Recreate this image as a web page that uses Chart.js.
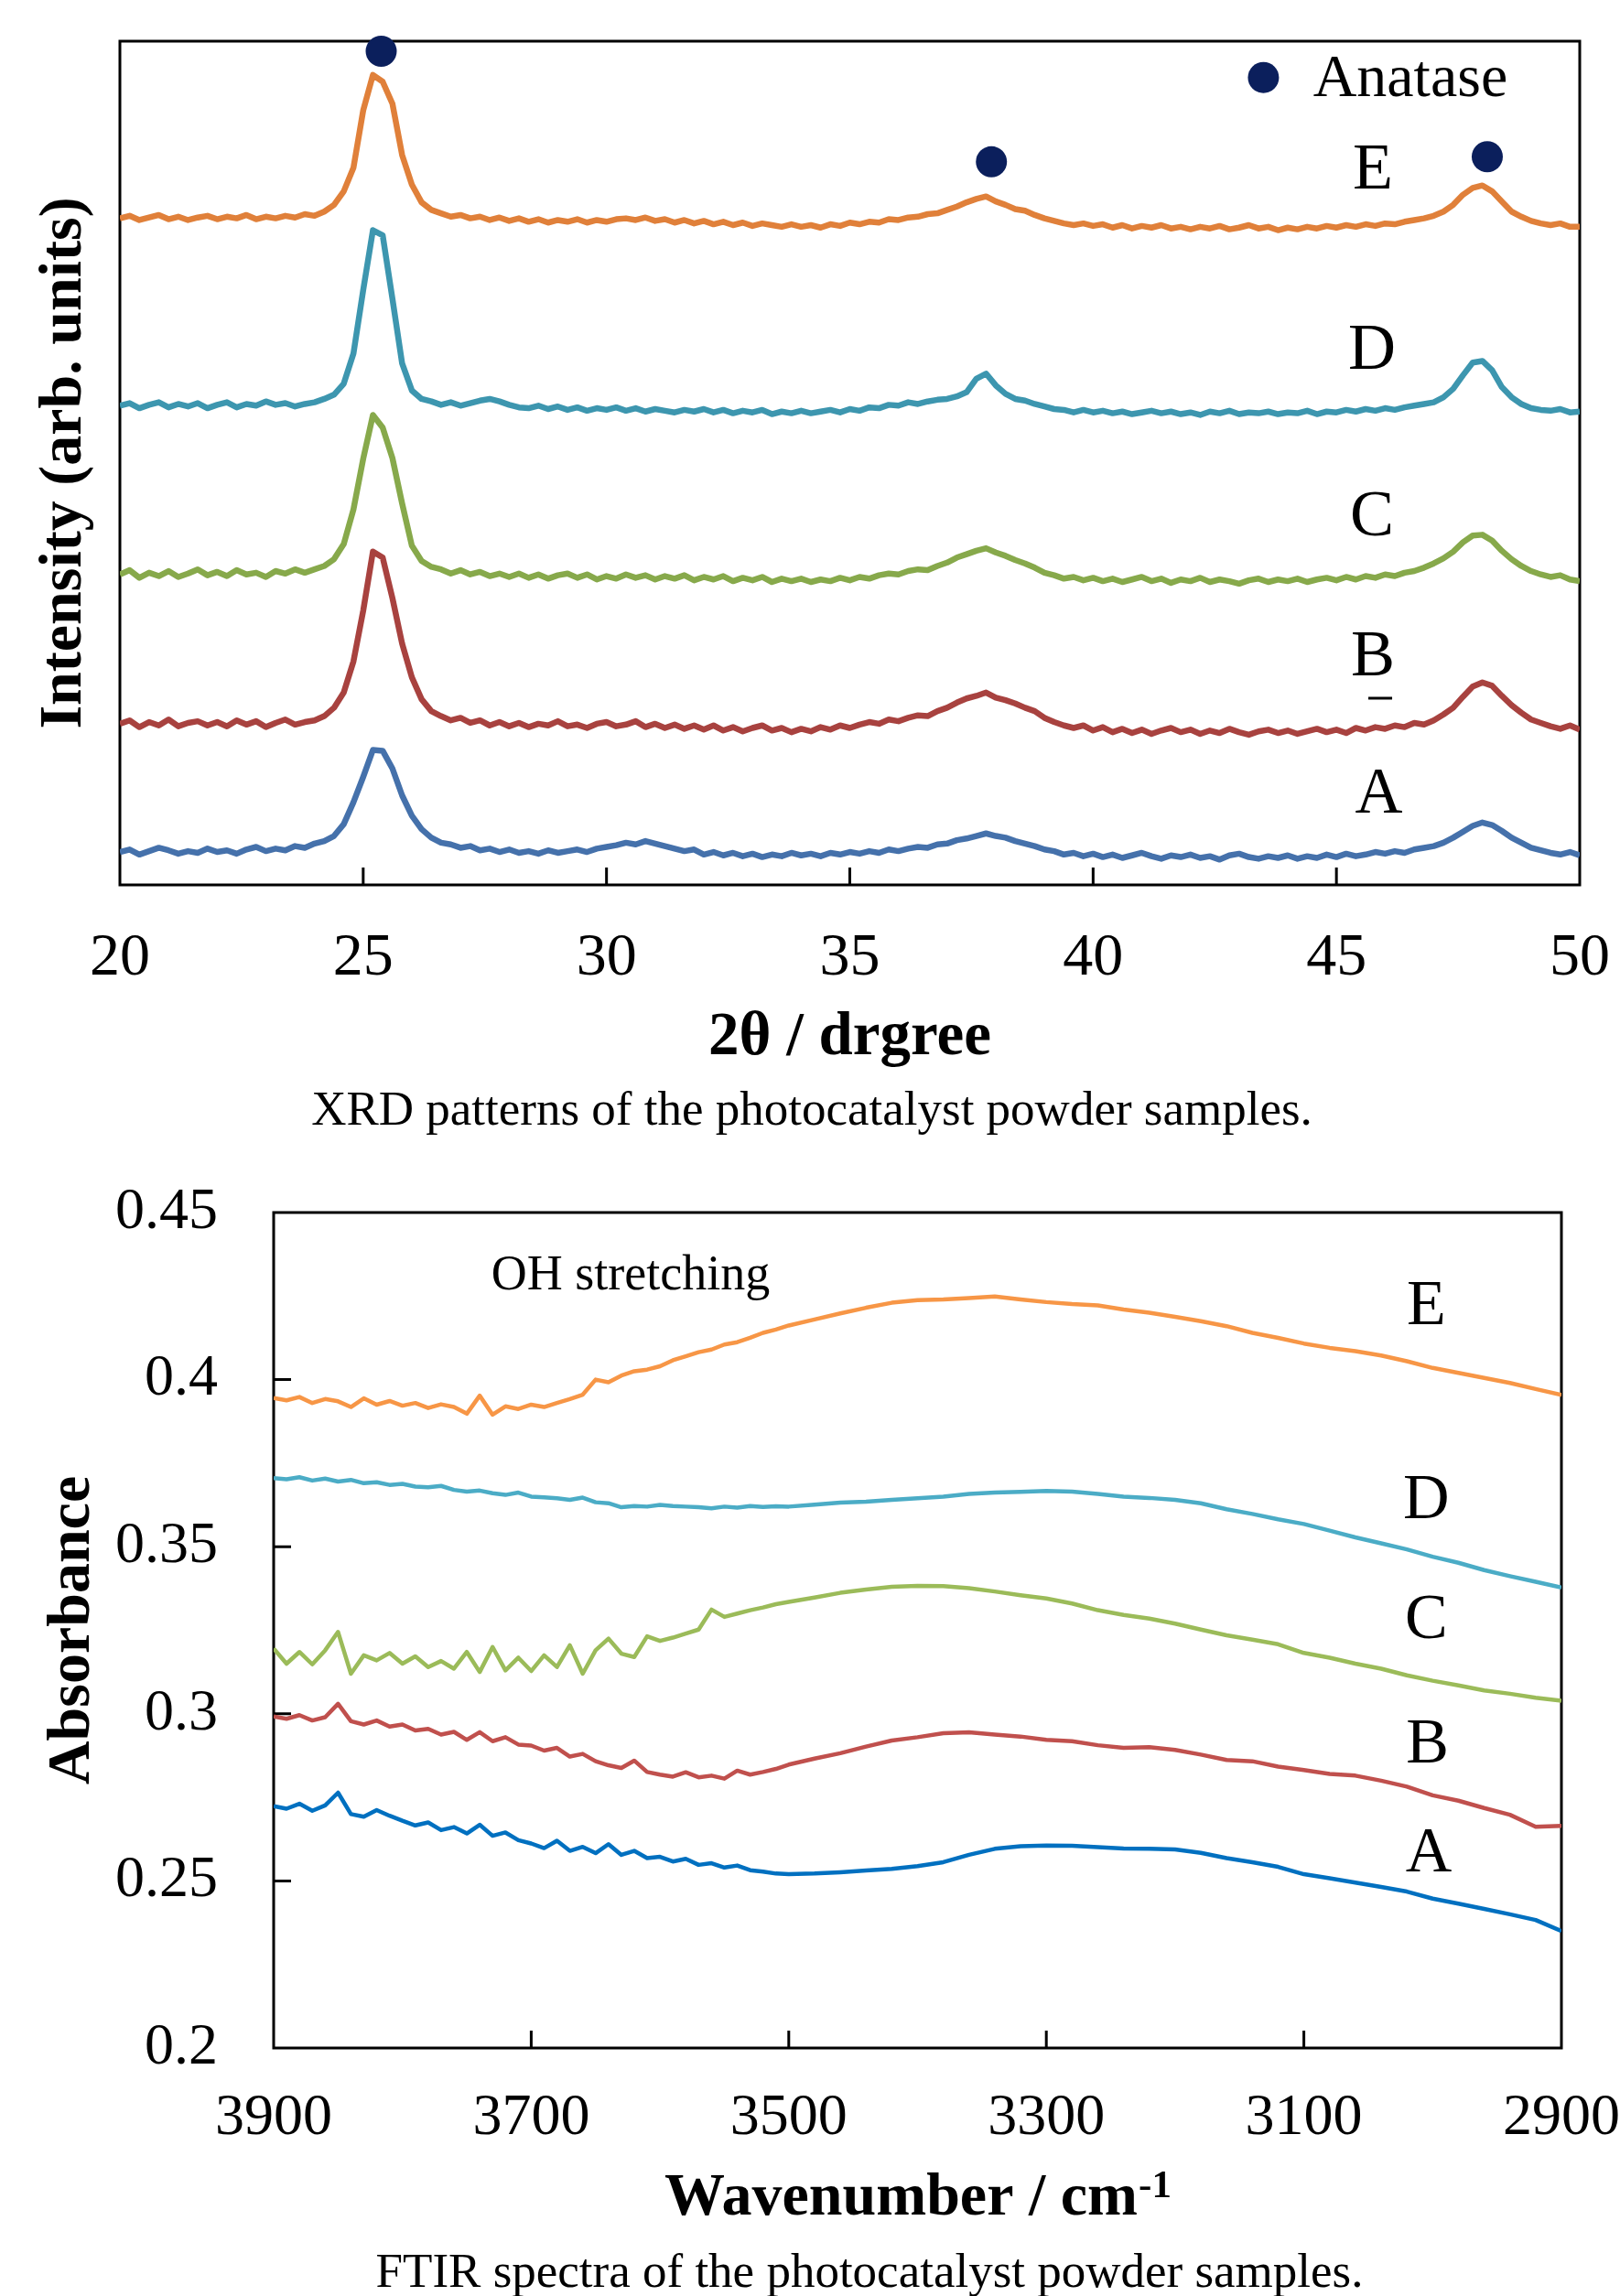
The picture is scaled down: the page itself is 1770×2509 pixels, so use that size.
<!DOCTYPE html>
<html><head><meta charset="utf-8">
<script src="https://cdn.jsdelivr.net/npm/chart.js@4.4.1/dist/chart.umd.min.js"></script>
<style>
html,body{margin:0;padding:0;background:#fff;}
body{width:1770px;height:2509px;position:relative;overflow:hidden;}
canvas{position:absolute;left:0;}
#xrd{top:0;}
#ftir{top:1260px;}
</style></head>
<body>
<canvas id="xrd" width="1770" height="1260"></canvas>
<canvas id="ftir" width="1770" height="1249"></canvas>
<script>
// ---------------- XRD data ----------------
const twoTheta = [];
for (let i = 0; i <= 150; i++) twoTheta.push(Math.round((20 + 0.2 * i) * 10) / 10);
const xrdTicks = [20, 25, 30, 35, 40, 45, 50];

const xrdA = [
 3.9,4.2,3.6,4.0,4.4,4.1,3.7,4.0,3.8,4.3,
 3.9,4.1,3.7,4.2,4.5,4.0,4.3,4.1,4.6,4.4,
 4.9,5.2,5.8,7.2,9.8,12.8,16.0,15.9,13.8,10.6,
 8.2,6.6,5.6,5.0,4.8,4.4,4.6,4.1,4.3,3.9,
 4.2,3.8,4.0,3.7,4.1,3.8,4.0,4.2,3.9,4.3,
 4.5,4.7,5.0,4.8,5.2,4.9,4.6,4.3,4.0,4.2,
 3.6,3.9,3.5,3.8,3.4,3.7,3.3,3.6,3.4,3.8,
 3.5,3.7,3.4,3.8,3.6,3.9,3.7,4.0,3.8,4.2,
 4.0,4.3,4.5,4.4,4.8,4.9,5.3,5.5,5.8,6.1,
 5.8,5.6,5.2,4.9,4.6,4.2,4.0,3.6,3.8,3.4,
 3.7,3.3,3.6,3.2,3.5,3.8,3.4,3.1,3.5,3.3,
 3.6,3.2,3.4,3.0,3.5,3.7,3.3,3.1,3.4,3.2,
 3.5,3.1,3.4,3.2,3.6,3.3,3.7,3.4,3.6,3.9,
 3.7,4.0,3.8,4.2,4.4,4.6,5.0,5.6,6.3,7.0,
 7.4,7.1,6.4,5.6,5.0,4.4,4.1,3.8,3.6,3.9,
 3.5];
const xrdB = [
 19.1,19.5,18.7,19.3,18.9,19.6,18.8,19.2,19.4,18.9,
 19.3,18.8,19.5,19.0,19.4,18.7,19.2,19.6,19.0,19.3,
 19.5,20.0,21.0,22.8,26.5,32.5,39.5,38.8,34.0,28.6,
 24.6,22.0,20.6,20.0,19.5,19.8,19.2,19.5,18.9,19.3,
 18.8,19.2,18.7,19.1,18.9,19.4,18.8,19.0,18.6,19.1,
 19.3,18.8,19.0,19.4,18.7,19.1,18.6,19.0,18.5,18.9,
 18.4,18.9,18.3,18.7,18.2,18.6,18.9,18.3,18.6,18.1,
 18.5,18.2,18.7,18.4,18.9,18.6,19.0,19.3,19.1,19.6,
 19.4,19.8,20.1,20.0,20.6,21.0,21.6,22.1,22.4,22.8,
 22.2,21.9,21.5,21.0,20.6,19.8,19.3,18.9,18.6,18.9,
 18.3,18.7,18.1,18.5,18.0,18.4,17.9,18.3,18.6,18.1,
 18.4,17.9,18.3,18.0,18.5,18.1,17.8,18.2,18.4,18.0,
 18.3,17.9,18.2,18.5,18.1,18.4,18.0,18.6,18.3,18.7,
 18.5,18.9,18.7,19.2,19.0,19.5,20.2,21.0,22.3,23.5,
 24.0,23.6,22.4,21.3,20.4,19.6,19.2,18.8,18.5,18.9,
 18.4];
const xrdC = [
 36.8,37.3,36.4,37.0,36.6,37.2,36.5,36.9,37.4,36.7,
 37.1,36.6,37.3,36.8,37.0,36.5,37.2,36.9,37.4,37.0,
 37.4,37.8,38.6,40.4,44.5,50.5,55.7,54.2,50.6,45.2,
 40.2,38.4,37.7,37.4,36.9,37.3,36.8,37.1,36.6,36.9,
 36.5,36.9,36.4,36.8,36.3,36.7,36.9,36.4,36.8,36.2,
 36.6,36.3,36.8,36.4,36.7,36.2,36.6,36.3,36.7,36.1,
 36.5,36.2,36.6,36.0,36.4,36.1,36.5,35.9,36.3,36.0,
 36.3,35.9,36.2,36.0,36.4,36.1,36.5,36.3,36.7,36.9,
 36.8,37.2,37.4,37.3,37.8,38.2,38.8,39.2,39.6,39.9,
 39.4,39.0,38.5,38.1,37.6,37.0,36.7,36.3,36.5,36.1,
 36.4,36.0,36.3,35.9,36.2,36.5,36.0,36.3,35.8,36.2,
 36.0,36.4,35.9,36.2,36.0,35.7,36.1,36.3,35.9,36.2,
 36.0,36.3,35.9,36.2,36.4,36.1,36.5,36.2,36.6,36.4,
 36.8,36.6,37.0,37.2,37.6,38.1,38.7,39.5,40.6,41.4,
 41.5,40.8,39.6,38.6,37.8,37.2,36.8,36.5,36.7,36.2,
 36.0];
const xrdD = [
 56.8,57.1,56.5,56.9,57.2,56.6,57.0,56.7,57.1,56.5,
 56.9,57.2,56.6,57.0,56.8,57.3,56.9,57.1,56.7,57.0,
 57.2,57.6,58.1,59.4,63.0,70.5,77.6,77.0,69.5,61.8,
 58.6,57.6,57.3,56.9,57.2,56.8,57.1,57.4,57.6,57.3,
 56.9,56.6,56.5,56.8,56.4,56.7,56.3,56.6,56.2,56.5,
 56.3,56.6,56.2,56.5,56.1,56.4,56.2,56.0,56.3,56.1,
 56.4,56.0,56.3,55.9,56.2,56.0,56.3,55.8,56.1,55.9,
 56.2,55.9,56.1,56.3,56.0,56.4,56.2,56.6,56.5,56.9,
 56.8,57.2,57.0,57.3,57.5,57.6,57.9,58.4,60.0,60.6,
 59.2,58.2,57.6,57.4,57.0,56.7,56.4,56.3,56.0,56.3,
 56.0,56.2,55.9,56.1,55.8,56.0,56.2,55.9,56.1,55.8,
 56.0,55.7,56.1,55.9,56.2,55.8,56.0,55.9,56.1,55.8,
 56.0,55.9,56.2,55.8,56.1,56.0,56.3,56.1,56.4,56.2,
 56.5,56.3,56.6,56.8,57.0,57.2,57.8,58.8,60.4,61.9,
 62.1,61.0,59.0,57.8,57.0,56.5,56.3,56.2,56.4,56.0,
 56.1];
const xrdE = [
 79.0,79.3,78.8,79.1,79.4,78.9,79.2,78.8,79.1,79.3,
 78.9,79.2,79.0,79.4,78.9,79.2,79.0,79.3,79.1,79.5,
 79.3,79.8,80.6,82.2,85.0,91.8,96.0,95.2,92.6,86.5,
 83.0,80.9,80.0,79.6,79.2,79.4,79.0,79.2,78.8,79.1,
 78.7,79.0,78.6,78.9,78.5,78.8,78.6,78.9,78.5,78.8,
 78.6,78.9,79.0,78.8,79.1,78.7,78.9,78.5,78.8,78.4,
 78.7,78.3,78.6,78.2,78.5,78.1,78.4,78.2,78.0,78.3,
 78.0,78.2,77.9,78.3,78.1,78.5,78.3,78.6,78.5,78.9,
 78.8,79.1,79.2,79.5,79.6,80.0,80.4,80.9,81.3,81.6,
 81.0,80.6,80.1,79.9,79.4,79.0,78.7,78.4,78.2,78.4,
 78.1,78.3,77.9,78.2,77.8,78.1,77.9,78.2,77.8,78.0,
 77.7,78.0,77.8,78.1,77.7,77.9,78.2,77.8,78.0,77.6,
 77.9,77.7,78.0,77.8,78.1,77.9,78.2,78.0,78.3,78.1,
 78.4,78.3,78.6,78.8,79.0,79.3,79.8,80.6,81.8,82.6,
 82.9,82.2,81.0,79.8,79.2,78.7,78.4,78.2,78.4,78.0,
 78.0];
const anataseTheta = [25.37, 37.91, 48.10];
const anataseIntensity = [98.8, 85.7, 86.3];

// ---------------- FTIR data ----------------
const wavenumber = [
 3900,3890,3880,3870,3860,3850,3840,3830,3820,3810,
 3800,3790,3780,3770,3760,3750,3740,3730,3720,3710,
 3700,3690,3680,3670,3660,3650,3640,3630,3620,3610,
 3600,3590,3580,3570,3560,3550,3540,3530,3520,3510,
 3500,3480,3460,3440,3420,3400,3380,3360,3340,3320,
 3300,3280,3260,3240,3220,3200,3180,3160,3140,3120,
 3100,3080,3060,3040,3020,3000,2980,2960,2940,2920,
 2900];
const ftirXTicks = [3900, 3700, 3500, 3300, 3100, 2900];
const ftirYTicks = [0.2, 0.25, 0.3, 0.35, 0.4, 0.45];

const ftirA = [
 0.2724,0.2716,0.2731,0.2710,0.2726,0.2764,0.2700,0.2692,0.2712,0.2695,
 0.2680,0.2666,0.2675,0.2652,0.2661,0.2642,0.2668,0.2635,0.2645,0.2622,
 0.2612,0.2598,0.2620,0.2590,0.2602,0.2583,0.2610,0.2578,0.2590,0.2568,
 0.2572,0.2558,0.2566,0.2548,0.2553,0.2540,0.2546,0.2532,0.2528,0.2522,
 0.2520,0.2522,0.2526,0.2531,0.2536,0.2544,0.2556,0.2578,0.2596,0.2604,
 0.2606,0.2605,0.2601,0.2597,0.2596,0.2594,0.2584,0.2568,0.2556,0.2542,
 0.2520,0.2508,0.2495,0.2482,0.2468,0.2447,0.2432,0.2416,0.2400,0.2383,
 0.2350];
const ftirB = [
 0.2992,0.2985,0.2996,0.2980,0.2990,0.3030,0.2978,0.2968,0.2980,0.2962,
 0.2968,0.2950,0.2955,0.2938,0.2946,0.2922,0.2945,0.2918,0.2930,0.2908,
 0.2905,0.2890,0.2898,0.2872,0.2880,0.2858,0.2846,0.2838,0.2860,0.2826,
 0.2818,0.2812,0.2825,0.2810,0.2815,0.2806,0.2830,0.2818,0.2826,0.2835,
 0.2848,0.2866,0.2882,0.2902,0.2920,0.2930,0.2942,0.2945,0.2938,0.2932,
 0.2922,0.2918,0.2906,0.2898,0.2900,0.2892,0.2878,0.2862,0.2858,0.2842,
 0.2832,0.2820,0.2815,0.2800,0.2782,0.2756,0.2740,0.2718,0.2698,0.2662,
 0.2665];
const ftirC = [
 0.3195,0.3150,0.3185,0.3148,0.3190,0.3245,0.3120,0.3175,0.3160,0.3182,
 0.3150,0.3172,0.3140,0.3158,0.3135,0.3185,0.3125,0.3200,0.3130,0.3168,
 0.3128,0.3175,0.3140,0.3205,0.3120,0.3190,0.3225,0.3180,0.3170,0.3232,
 0.3218,0.3228,0.3240,0.3252,0.3312,0.3290,0.3300,0.3310,0.3318,0.3328,
 0.3335,0.3348,0.3362,0.3372,0.3380,0.3383,0.3382,0.3376,0.3366,0.3355,
 0.3345,0.3330,0.3310,0.3296,0.3285,0.3270,0.3252,0.3235,0.3222,0.3208,
 0.3182,0.3168,0.3150,0.3135,0.3115,0.3099,0.3085,0.3070,0.3060,0.3048,
 0.3039];
const ftirD = [
 0.3705,0.3702,0.3708,0.3698,0.3704,0.3695,0.3700,0.3690,0.3693,0.3685,
 0.3688,0.3680,0.3678,0.3682,0.3670,0.3665,0.3668,0.3660,0.3655,0.3662,
 0.3650,0.3648,0.3645,0.3640,0.3647,0.3633,0.3630,0.3618,0.3622,0.3620,
 0.3625,0.3622,0.3620,0.3618,0.3615,0.3620,0.3617,0.3622,0.3619,0.3621,
 0.3620,0.3626,0.3632,0.3635,0.3640,0.3645,0.3650,0.3658,0.3662,0.3664,
 0.3667,0.3665,0.3658,0.3650,0.3646,0.3640,0.3630,0.3612,0.3598,0.3582,
 0.3568,0.3548,0.3528,0.3510,0.3492,0.3470,0.3452,0.3430,0.3412,0.3395,
 0.3378];
const ftirE = [
 0.3945,0.3938,0.3948,0.3930,0.3942,0.3935,0.3918,0.3944,0.3925,0.3936,
 0.3922,0.3930,0.3915,0.3926,0.3918,0.3898,0.3952,0.3895,0.3920,0.3912,
 0.3925,0.3918,0.3930,0.3942,0.3955,0.4000,0.3992,0.4012,0.4025,0.4030,
 0.4040,0.4058,0.4070,0.4082,0.4090,0.4105,0.4112,0.4125,0.4140,0.4150,
 0.4162,0.4180,0.4198,0.4215,0.4230,0.4238,0.4240,0.4244,0.4249,0.4240,
 0.4232,0.4226,0.4222,0.4210,0.4200,0.4188,0.4175,0.4160,0.4140,0.4125,
 0.4108,0.4095,0.4085,0.4072,0.4055,0.4035,0.4020,0.4005,0.3990,0.3972,
 0.3954];

// ---------------- helpers ----------------
const SERIF = '"Liberation Serif", "Times New Roman", serif';
const pts = (xs, ys) => xs.map((x, i) => ({x: x, y: ys[i]}));
const noPad = s => { s.paddingLeft = 0; s.paddingRight = 0; s.paddingTop = 0; s.paddingBottom = 0; };

function makeDecor(id, deco) {
  return {
    id: id,
    beforeDatasetsDraw(chart) {
      const ctx = chart.ctx, a = chart.chartArea, x = chart.scales.x, y = chart.scales.y;
      ctx.save();
      ctx.strokeStyle = '#000';
      ctx.lineWidth = 3;
      ctx.strokeRect(a.left, a.top, a.right - a.left, a.bottom - a.top);
      ctx.lineWidth = 3;
      ctx.beginPath();
      deco.innerX.forEach(v => { const p = x.getPixelForValue(v); ctx.moveTo(p, a.bottom); ctx.lineTo(p, a.bottom - 19); });
      deco.innerY.forEach(v => { const p = y.getPixelForValue(v); ctx.moveTo(a.left, p); ctx.lineTo(a.left + 19, p); });
      ctx.stroke();
      ctx.restore();
    },
    afterDraw(chart) {
      const ctx = chart.ctx, a = chart.chartArea, x = chart.scales.x, y = chart.scales.y;
      ctx.save();
      ctx.fillStyle = '#000';
      deco.labels.forEach(l => {
        ctx.font = l.font;
        ctx.textAlign = l.align || 'center';
        ctx.textBaseline = l.baseline || 'middle';
        ctx.fillText(l.text, x.getPixelForValue(l.x), y.getPixelForValue(l.y));
      });
      deco.draw(chart, ctx, a, x, y);
      ctx.restore();
    }
  };
}

// ---------------- XRD chart ----------------
const xrdColors = {A: '#4571AB', B: '#A8423F', C: '#87A94B', D: '#3D96AF', E: '#E0803A'};
const xrdSeries = {A: xrdA, B: xrdB, C: xrdC, D: xrdD, E: xrdE};
const xrdDatasets = ['A', 'B', 'C', 'D', 'E'].map(k => ({
  label: k, data: pts(twoTheta, xrdSeries[k]), borderColor: xrdColors[k],
  borderWidth: 6.5, pointRadius: 0, tension: 0, fill: false, borderJoinStyle: 'round'
}));
xrdDatasets.push({
  label: 'Anatase', data: pts(anataseTheta, anataseIntensity), showLine: false,
  pointRadius: 17, pointBackgroundColor: '#0B1F5C', pointBorderWidth: 0, clip: false
});

const xrdDeco = makeDecor('xrdDeco', {
  innerX: xrdTicks.slice(1, -1),
  innerY: [],
  labels: [
    {text: 'E', x: 45.75, y: 84.6, font: '72px ' + SERIF},
    {text: 'D', x: 45.73, y: 63.2, font: '72px ' + SERIF},
    {text: 'C', x: 45.73, y: 43.5, font: '72px ' + SERIF},
    {text: 'B', x: 45.75, y: 26.9, font: '72px ' + SERIF},
    {text: 'A', x: 45.87, y: 10.6, font: '72px ' + SERIF},
    {text: 'Anatase', x: 44.52, y: 93.5, font: '66px ' + SERIF, align: 'left', baseline: 'alphabetic'}
  ],
  draw(chart, ctx, a, x, y) {
    // underline mark beneath B
    const bx = x.getPixelForValue(45.75), by = y.getPixelForValue(26.9);
    ctx.strokeStyle = '#000'; ctx.lineWidth = 3;
    ctx.beginPath(); ctx.moveTo(bx - 5, by + 44); ctx.lineTo(bx + 21, by + 44); ctx.stroke();
    // legend marker
    ctx.fillStyle = '#0B1F5C';
    ctx.beginPath(); ctx.arc(x.getPixelForValue(43.5), y.getPixelForValue(95.7), 17, 0, Math.PI * 2); ctx.fill();
    ctx.fillStyle = '#000';
    // y title
    ctx.save();
    ctx.translate(88, (a.top + a.bottom) / 2);
    ctx.rotate(-Math.PI / 2);
    ctx.font = 'bold 66px ' + SERIF; ctx.textAlign = 'center'; ctx.textBaseline = 'alphabetic';
    ctx.fillText('Intensity (arb. units)', 0, 0);
    ctx.restore();
    // x title
    ctx.font = 'bold 67px ' + SERIF; ctx.textAlign = 'center'; ctx.textBaseline = 'alphabetic';
    ctx.fillText('2\u03B8 / drgree', (a.left + a.right) / 2, 1152);
    // caption
    ctx.font = '53px ' + SERIF;
    ctx.fillText('XRD patterns of the photocatalyst powder samples.', 887, 1229);
  }
});

new Chart(document.getElementById('xrd'), {
  type: 'line',
  data: {datasets: xrdDatasets},
  options: {
    responsive: false, animation: false, devicePixelRatio: 1, events: [],
    layout: {padding: {left: 0, top: 45, right: 44, bottom: 0}},
    plugins: {legend: {display: false}, tooltip: {enabled: false}},
    scales: {
      x: {
        type: 'linear', min: 20, max: 50,
        afterBuildTicks: s => { s.ticks = xrdTicks.map(v => ({value: v})); },
        grid: {display: false, drawTicks: false}, border: {display: false},
        ticks: {font: {family: SERIF, size: 66}, color: '#000', padding: 41, maxRotation: 0, autoSkip: false},
        afterFit: s => { s.height = 293; noPad(s); }
      },
      y: {
        type: 'linear', min: 0, max: 100,
        grid: {display: false, drawTicks: false}, border: {display: false},
        ticks: {display: false},
        afterFit: s => { s.width = 131; noPad(s); }
      }
    }
  },
  plugins: [xrdDeco]
});

// ---------------- FTIR chart ----------------
const ftirColors = {A: '#0070C0', B: '#C0504D', C: '#9BBB59', D: '#4BACC6', E: '#F79646'};
const ftirSeries = {A: ftirA, B: ftirB, C: ftirC, D: ftirD, E: ftirE};
const ftirDatasets = ['A', 'B', 'C', 'D', 'E'].map(k => ({
  label: k, data: pts(wavenumber, ftirSeries[k]), borderColor: ftirColors[k],
  borderWidth: 4.5, pointRadius: 0, tension: 0, fill: false, borderJoinStyle: 'round'
}));

const ftirDeco = makeDecor('ftirDeco', {
  innerX: ftirXTicks.slice(1, -1),
  innerY: ftirYTicks.slice(1, -1),
  labels: [
    {text: 'E', x: 3005, y: 0.4215, font: '70px ' + SERIF},
    {text: 'D', x: 3005, y: 0.3636, font: '70px ' + SERIF},
    {text: 'C', x: 3005, y: 0.3276, font: '70px ' + SERIF},
    {text: 'B', x: 3004, y: 0.2906, font: '70px ' + SERIF},
    {text: 'A', x: 3003, y: 0.2580, font: '70px ' + SERIF},
    {text: 'OH stretching', x: 3731, y: 0.427, font: '54px ' + SERIF, align: 'left', baseline: 'alphabetic'}
  ],
  draw(chart, ctx, a, x, y) {
    // y title
    ctx.save();
    ctx.translate(97, (a.top + a.bottom) / 2);
    ctx.rotate(-Math.PI / 2);
    ctx.font = 'bold 66px ' + SERIF; ctx.textAlign = 'center'; ctx.textBaseline = 'alphabetic';
    ctx.fillText('Absorbance', 0, 0);
    ctx.restore();
    // x title with superscript
    const main = 'Wavenumber / cm', sup = '-1';
    ctx.font = 'bold 66px ' + SERIF;
    const w1 = ctx.measureText(main).width;
    ctx.font = 'bold 43px ' + SERIF;
    const w2 = ctx.measureText(sup).width;
    const x0 = (a.left + a.right) / 2 - (w1 + w2) / 2;
    ctx.textAlign = 'left'; ctx.textBaseline = 'alphabetic';
    ctx.font = 'bold 66px ' + SERIF;
    ctx.fillText(main, x0, 1160);
    ctx.font = 'bold 43px ' + SERIF;
    ctx.fillText(sup, x0 + w1 + 1, 1141);
    // caption
    ctx.font = '53px ' + SERIF; ctx.textAlign = 'center';
    ctx.fillText('FTIR spectra of the photocatalyst powder samples.', 950, 1239);
  }
});

new Chart(document.getElementById('ftir'), {
  type: 'line',
  data: {datasets: ftirDatasets},
  options: {
    responsive: false, animation: false, devicePixelRatio: 1, events: [],
    layout: {padding: {left: 0, top: 65, right: 64, bottom: 0}},
    plugins: {legend: {display: false}, tooltip: {enabled: false}},
    scales: {
      x: {
        type: 'linear', reverse: true, min: 2900, max: 3900,
        afterBuildTicks: s => { s.ticks = ftirXTicks.map(v => ({value: v})); },
        grid: {display: false, drawTicks: false}, border: {display: false},
        ticks: {font: {family: SERIF, size: 64}, color: '#000', padding: 39, maxRotation: 0, autoSkip: false,
                callback: v => String(v)},
        afterFit: s => { s.height = 271; noPad(s); }
      },
      y: {
        type: 'linear', min: 0.2, max: 0.45,
        afterBuildTicks: s => { s.ticks = ftirYTicks.map(v => ({value: v})); },
        grid: {display: false, drawTicks: false}, border: {display: false},
        ticks: {font: {family: SERIF, size: 64}, color: '#000', padding: 61, autoSkip: false,
                callback: v => String(v)},
        afterFit: s => { s.width = 299; noPad(s); }
      }
    }
  },
  plugins: [ftirDeco]
});
</script>
</body></html>
